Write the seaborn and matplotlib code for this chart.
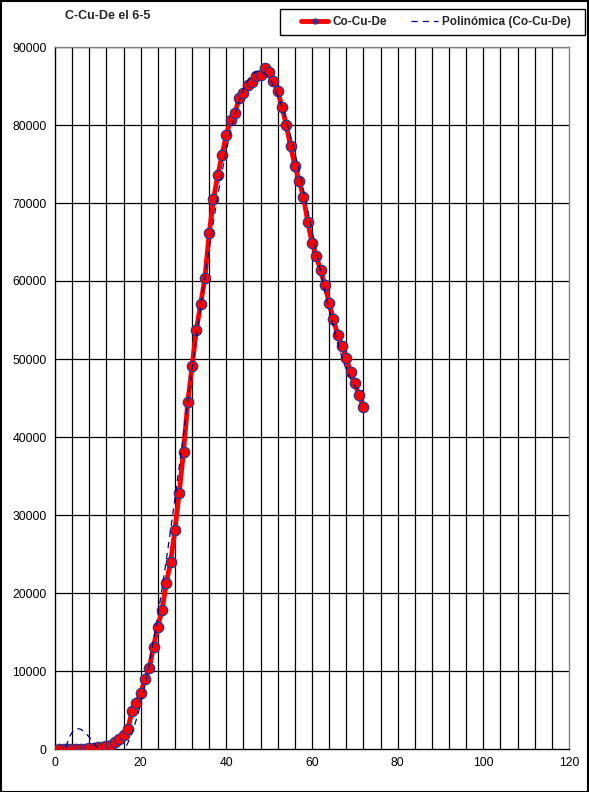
import numpy as np
import pandas as pd
import matplotlib
matplotlib.use("Agg")
import matplotlib.pyplot as plt
from matplotlib.patches import Rectangle
from matplotlib.lines import Line2D
from matplotlib.ticker import MultipleLocator
import seaborn as sns

x_vals = list(range(1, 73))
y_vals = [0, 0, 0, 0, 20, 30, 50, 80, 120, 200, 300, 380, 450, 900, 1300, 1800,
          2600, 4850, 5940, 7140, 8930, 10340, 13120, 15680, 17780, 21320, 24010,
          28120, 32870, 38120, 44450, 49100, 53700, 57050, 60400, 66100, 70470,
          73550, 76150, 78760, 80640, 81500, 83500, 84150, 85170, 85470, 86280,
          86460, 87350, 86800, 85680, 84320, 82350, 79960, 77300, 74780, 72820,
          70810, 67600, 64910, 63200, 61370, 59450, 57220, 55090, 53080, 51670,
          50090, 48370, 46880, 45350, 43800]
title = "C-Cu-De el 6-5"
series_name = "Co-Cu-De"
trend_name = "Polinómica (Co-Cu-De)"
x_ticks = [0, 20, 40, 60, 80, 100, 120]
y_ticks = list(range(0, 90001, 10000))

df = pd.DataFrame({"x": x_vals, "y": y_vals})
coef = np.polyfit(df["x"], df["y"], 6)
xt = np.linspace(min(x_vals), max(x_vals), 400)
trend = pd.DataFrame({"x": xt, "y": np.polyval(coef, xt)})

sns.set_style("white")
plt.rcParams["font.family"] = ["Liberation Sans", "DejaVu Sans"]

W, H = 589, 792
fig = plt.figure(figsize=(W / 100, H / 100), dpi=100)
ax = fig.add_axes([55 / W, (H - 749) / H, (569 - 55) / W, (749 - 47) / H])

red = "#ff0000"
edge = "#33338a"
navy = "#000080"
sns.lineplot(data=df, x="x", y="y", ax=ax, color=red, lw=3.5,
             marker="o", markersize=7.5, markerfacecolor=red,
             markeredgecolor=edge, markeredgewidth=0.9, zorder=3,
             legend=False)
sns.lineplot(data=trend, x="x", y="y", ax=ax, color=navy, lw=0.9,
             linestyle=(0, (5, 4)), zorder=4, legend=False)

ax.set_xlim(0, 120)
ax.set_ylim(0, 90000)
ax.set_xticks(x_ticks)
ax.set_yticks(y_ticks)
ax.xaxis.set_minor_locator(MultipleLocator(4))
ax.yaxis.set_minor_locator(MultipleLocator(2000))
ax.grid(False)
for v in np.arange(4, 120, 4):
    ax.axvline(v, color="black", lw=0.9, zorder=1)
for v in y_ticks[1:]:
    ax.axhline(v, color="black", lw=0.9, zorder=1)
ax.set_xlabel("")
ax.set_ylabel("")
ax.tick_params(axis="both", which="major", labelsize=8.8, length=0, pad=6,
               colors="black")
ax.tick_params(axis="y", which="minor", direction="in", length=3, color="black",
               width=0.8)
ax.tick_params(axis="x", which="minor", length=0)
for s in ["left", "bottom"]:
    ax.spines[s].set_color("black")
    ax.spines[s].set_linewidth(1)
for s in ["top", "right"]:
    ax.spines[s].set_color("#808080")
    ax.spines[s].set_linewidth(1)
ax.set_facecolor("white")

fig.text(65 / W, 1 - 16 / H, title, fontsize=9, fontweight="bold",
         ha="left", va="center")

handles = [
    Line2D([], [], color=red, lw=3.5, marker="o", markersize=3.5,
           markerfacecolor=edge, markeredgecolor=edge),
    Line2D([], [], color=navy, lw=0.9, linestyle=(0, (5, 4))),
]
leg = fig.legend(handles, [series_name, trend_name], loc="center", ncol=2,
                 bbox_to_anchor=(436 / W, 1 - 22 / H), borderaxespad=0,
                 frameon=False, handlelength=2.3, handletextpad=0.35,
                 columnspacing=2.0, prop={"size": 8.5, "weight": "bold"},
                 borderpad=0.5)

fig.patches.append(Rectangle((280 / W, 1 - 35 / H), 305 / W, 26 / H,
                             transform=fig.transFigure, fill=False,
                             edgecolor="black", lw=1))
fig.patches.append(Rectangle((0.5 / W, 0.5 / H), (W - 1.5) / W, (H - 1.5) / H,
                             transform=fig.transFigure, fill=False,
                             edgecolor="black", lw=1.5))

fig.savefig("out.png", dpi=100)
